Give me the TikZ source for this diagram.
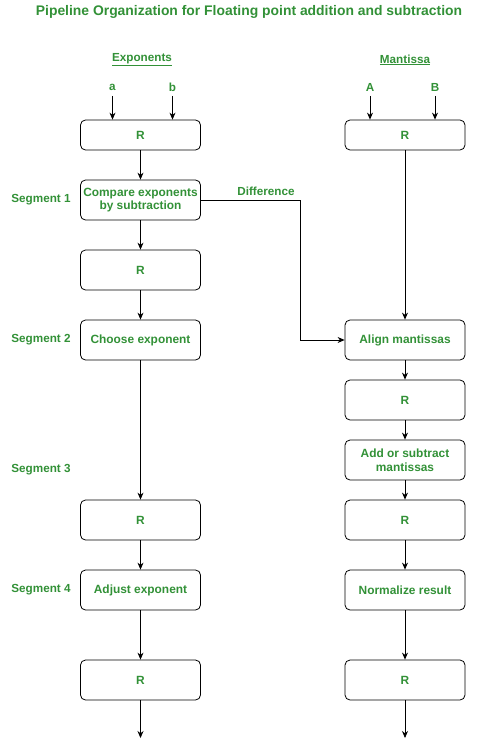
\documentclass[tikz,border=0pt]{standalone}
\usepackage{fontspec}
\setmainfont{Liberation Sans}
\usetikzlibrary{arrows.meta}
\definecolor{gfg}{RGB}{50,145,55}
\begin{document}
\begin{tikzpicture}[x=1pt,y=-1pt,
  box/.style={draw=black, line width=0.8pt, rounded corners=5pt, minimum width=120pt, inner sep=0pt, align=center, text=gfg, font=\bfseries\fontsize{11.9}{13.5}\selectfont},
  lbl/.style={text=gfg, font=\bfseries\fontsize{11.7}{13}\selectfont, inner sep=0pt},
  arr/.style={draw=black, line width=0.8pt, -{Stealth[length=7pt,width=6pt]}}]
\useasboundingbox (0,0) rectangle (481,749);
\node[lbl, font=\bfseries\fontsize{13.9}{15}\selectfont] (title) at (249,12) {Pipeline Organization for Floating point addition and subtraction};
\node[lbl] (exp) at (142,60) {\underline{Exponents}};
\node[lbl] (man) at (405,60) {\underline{Mantissa}};
\node[lbl] (la) at (112.5,87) {a};
\node[lbl] (lb) at (172.5,87) {b};
\node[lbl] (lA) at (370,87) {A};
\node[lbl] (lB) at (435,87) {B};
\coordinate (ca) at (112.5,96);
\coordinate (cb) at (172.5,96);
\coordinate (cA) at (370,96);
\coordinate (cB) at (435,96);
% left column
\node[box, minimum height=30pt] (r1) at (140.5,135) {R};
\node[box, minimum height=40pt] (cmp) at (140.5,200) {Compare exponents\\by subtraction};
\node[box, minimum height=40pt] (r2) at (140.5,270) {R};
\node[box, minimum height=40pt] (ch) at (140.5,340) {Choose exponent};
\node[box, minimum height=40pt] (r3) at (140.5,520) {R};
\node[box, minimum height=40pt] (adj) at (140.5,590) {Adjust exponent};
\node[box, minimum height=40pt] (r4) at (140.5,680) {R};
\coordinate (eL) at (140.5,738);
% right column
\node[box, minimum height=30pt] (R1) at (405,135) {R};
\node[box, minimum height=40pt] (al) at (405,340) {Align mantissas};
\node[box, minimum height=40pt] (R2) at (405,400) {R};
\node[box, minimum height=40pt] (add) at (405,460) {Add or subtract\\mantissas};
\node[box, minimum height=40pt] (R3) at (405,520) {R};
\node[box, minimum height=40pt] (nor) at (405,590) {Normalize result};
\node[box, minimum height=40pt] (R4) at (405,680) {R};
\coordinate (eR) at (405,738);
% segments
\node[lbl] (s1) at (41,200) {Segment 1};
\node[lbl] (s2) at (41,340) {Segment 2};
\node[lbl] (s3) at (41,470) {Segment 3};
\node[lbl] (s4) at (41,590) {Segment 4};
\node[lbl] (diff) at (266,191) {Difference};
% arrows
\draw[arr] (ca) -- (ca |- r1.north);
\draw[arr] (cb) -- (cb |- r1.north);
\draw[arr] (cA) -- (cA |- R1.north);
\draw[arr] (cB) -- (cB |- R1.north);
\draw[arr] (r1) -- (cmp);
\draw[arr] (cmp) -- (r2);
\draw[arr] (r2) -- (ch);
\draw[arr] (ch) -- (r3);
\draw[arr] (r3) -- (adj);
\draw[arr] (adj) -- (r4);
\draw[arr] (r4) -- (eL);
\draw[arr] (R1) -- (al);
\draw[arr] (al) -- (R2);
\draw[arr] (R2) -- (add);
\draw[arr] (add) -- (R3);
\draw[arr] (R3) -- (nor);
\draw[arr] (nor) -- (R4);
\draw[arr] (R4) -- (eR);
\draw[arr] (cmp.east) -- (300,200) |- (al.west);
\end{tikzpicture}
\end{document}
